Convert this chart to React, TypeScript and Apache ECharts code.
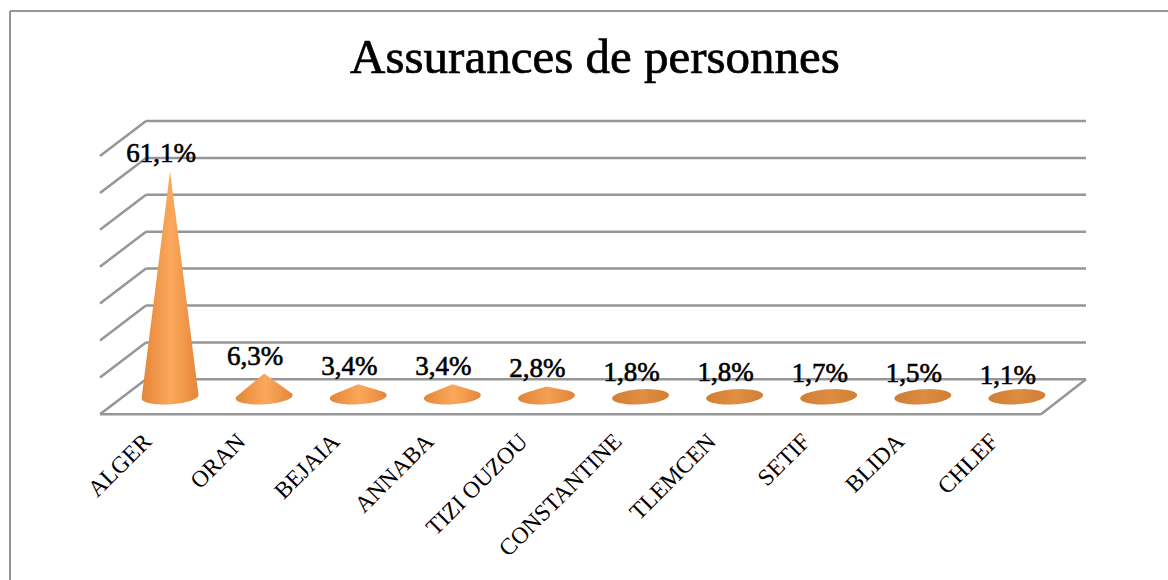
import React, { useEffect, useRef } from "react";
import * as echarts from "echarts";

const categories = ["ALGER", "ORAN", "BEJAIA", "ANNABA", "TIZI OUZOU", "CONSTANTINE", "TLEMCEN", "SETIF", "BLIDA", "CHLEF"];
const shares = [61.1, 6.3, 3.4, 3.4, 2.8, 1.8, 1.8, 1.7, 1.5, 1.1];
const axisTicks = [0, 10, 20, 30, 40, 50, 60, 70];

const FONT = '"Liberation Serif", serif';
const LINE = "#969696";
const DX = 46, DY = -35;
const RX = 28.5, RY = 7.5, TILT = (-3.5 * Math.PI) / 180;

const mix = (a: number[], b: number[], t: number) =>
  "rgb(" + a.map((v, i) => Math.round(v + (b[i] - v) * t)).join(",") + ")";

function renderWall(params: any, api: any) {
  const v = api.value(1);
  const cs = params.coordSys;
  const y = api.coord([0, v])[1];
  const style = { stroke: LINE, lineWidth: 2.5, fill: "none" };
  const line = (x1: number, y1: number, x2: number, y2: number) => ({
    type: "line",
    shape: { x1, y1, x2, y2 },
    style,
  });
  const children: any[] = [
    line(cs.x, y, cs.x + DX, y + DY),
    line(cs.x + DX, y + DY, cs.x + cs.width + DX - 1, y + DY),
  ];
  if (v === 0) {
    children.push(line(cs.x, y, cs.x + cs.width, y));
    children.push(line(cs.x + cs.width, y, cs.x + cs.width + DX - 1, y + DY));
  }
  return { type: "group", children };
}

function renderCone(_params: any, api: any) {
  const [fx, fy] = api.coord([api.value(0), 0]);
  const tipY = api.coord([api.value(0), api.value(1)])[1];
  const cx = fx + DX / 2;
  const cy = fy + DY / 2;
  const h = fy - tipY;
  const cos = Math.cos(TILT), sin = Math.sin(TILT);
  const at = (x: number, y: number) => [cx + x * cos - y * sin, cy + x * sin + y * cos];
  const pts: number[][] = [];
  let a0 = 0;
  if (h > RY) {
    const ty = (RY * RY) / h;
    a0 = Math.asin(ty / RY);
    pts.push([cx, cy - h]);
  }
  const n = 48;
  const span = h > RY ? Math.PI + 2 * a0 : Math.PI * 2;
  for (let i = 0; i <= n; i++) {
    const a = (h > RY ? -a0 : 0) + (span * i) / n;
    pts.push(at(RX * Math.cos(a), RY * Math.sin(a)));
  }
  const t = Math.min(1, Math.max(0, (h - 6) / 6));
  const centre = mix([222, 140, 66], [250, 168, 92], t);
  const side = mix([208, 126, 54], [226, 134, 58], t);
  const mid = mix([214, 132, 58], [240, 150, 72], t);
  const label = api.value(1).toFixed(1).replace(".", ",") + "%";
  return {
    type: "group",
    children: [
      {
        type: "polygon",
        shape: { points: pts },
        style: {
          fill: new echarts.graphic.LinearGradient(0, 0, 1, 0, [
            { offset: 0, color: side },
            { offset: 0.25, color: mid },
            { offset: 0.52, color: centre },
            { offset: 0.78, color: mid },
            { offset: 1, color: side },
          ]),
        },
      },
      {
        type: "text",
        x: cx - 9,
        y: cy - h - 18,
        style: {
          text: label,
          font: "27px " + FONT,
          fill: "#000",
          stroke: "#000",
          lineWidth: 0.6,
          align: "center",
          verticalAlign: "middle",
        },
      },
    ],
  };
}

export default function App() {
  const ref = useRef<HTMLDivElement>(null);
  useEffect(() => {
    const chart = echarts.init(ref.current!, undefined, { renderer: "svg" });
    chart.setOption({
      animation: false,
      backgroundColor: "#fff",
      title: {
        text: "Assurances de personnes",
        left: 590,
        top: 27,
        textAlign: "center",
        textStyle: {
          fontFamily: FONT,
          fontSize: 49,
          fontWeight: "normal",
          color: "#000",
          textBorderColor: "#000",
          textBorderWidth: 0.7,
        },
      },
      grid: { left: 100, right: 127, top: 156, bottom: 165.7 },
      xAxis: {
        type: "category",
        data: categories,
        axisLine: { show: false },
        axisTick: { show: false },
        axisLabel: {
          rotate: 45,
          interval: 0,
          margin: 23,
          fontFamily: FONT,
          fontSize: 23.5,
          color: "#000",
        },
      },
      yAxis: {
        type: "value",
        min: 0,
        max: 70,
        interval: 10,
        axisLine: { show: false },
        axisTick: { show: false },
        axisLabel: { show: false },
        splitLine: { show: false },
      },
      graphic: [
        { type: "line", shape: { x1: 10, y1: 11, x2: 1168, y2: 11 }, style: { stroke: LINE, lineWidth: 2 } },
        { type: "line", shape: { x1: 10, y1: 11, x2: 10, y2: 580 }, style: { stroke: LINE, lineWidth: 2 } },
      ],
      series: [
        {
          type: "custom",
          renderItem: renderWall,
          data: axisTicks.map((v) => [0, v]),
          clip: false,
          silent: true,
          z: 1,
        },
        {
          type: "custom",
          renderItem: renderCone,
          data: shares.map((v, i) => [i, v]),
          clip: false,
          silent: true,
          z: 2,
        },
      ],
    });
    return () => chart.dispose();
  }, []);
  return <div ref={ref} style={{ position: "absolute", left: 0, top: 0, width: 1168, height: 580 }} />;
}
